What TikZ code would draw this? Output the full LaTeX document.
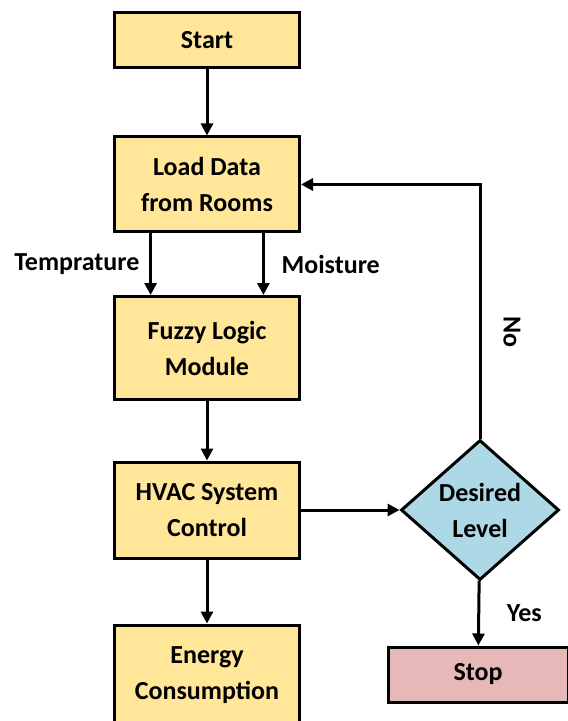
\documentclass[tikz,border=0pt]{standalone}
\usepackage{fontspec}
\setmainfont{Carlito}
\usetikzlibrary{arrows.meta,shapes.geometric,calc}
\definecolor{fcGold}{HTML}{FFE699}
\definecolor{fcBlue}{HTML}{ADD8E6}
\definecolor{fcRose}{HTML}{E6B8B7}

\begin{document}
\begin{tikzpicture}[x=0.5pt,y=-0.5pt,
  box/.style={draw=black, line width=1.5pt, fill=fcGold, minimum width=92.5pt,
    align=center, inner sep=0pt, font=\bfseries\fontsize{13}{18}\selectfont},
  decide/.style={diamond, draw=black, line width=1.5pt, fill=fcBlue, aspect=1,
    minimum width=79pt, minimum height=70pt, inner sep=0pt, align=center,
    font=\bfseries\fontsize{13}{18}\selectfont},
  lbl/.style={font=\bfseries\fontsize{13}{18}\selectfont},
  flow/.style={line width=1.5pt, -{Triangle[length=6pt,width=6pt]}}]
  \useasboundingbox (0,0) rectangle (567,721);
  \node[box, minimum height=27.5pt] (start) at (207,40) {Start};
  \node[box, minimum height=47.5pt] (load) at (207,184.5) {Load Data\\from Rooms};
  \node[box, minimum height=51.5pt] (fuzzy) at (207,348) {Fuzzy Logic\\Module};
  \node[box, minimum height=48pt] (hvac) at (207,510) {HVAC System\\Control};
  \node[box, minimum height=50pt] (energy) at (207,675) {Energy\\Consumption};
  \node[decide] (dec) at (480,510) {Desired\\Level};
  \node[box, fill=fcRose, minimum width=90pt, minimum height=27.5pt] (stop) at (478,674.5) {Stop};
  % main chain
  \draw[flow] (start) -- (load);
  \draw[flow] ($(load.south west)!0.2!(load.south east)$) --
    node[lbl, left=1.5pt] {Temprature} ($(fuzzy.north west)!0.2!(fuzzy.north east)$);
  \draw[flow] ($(load.south west)!0.8!(load.south east)$) --
    node[lbl, right=5pt] {Moisture} ($(fuzzy.north west)!0.8!(fuzzy.north east)$);
  \draw[flow] (fuzzy) -- (hvac);
  \draw[flow] (hvac) -- (energy);
  \draw[flow] (hvac) -- (dec);
  % decision
  \draw[flow] (dec) -- node[lbl, right=10pt] {Yes} (stop);
  \draw[flow] (dec.north) |- node[lbl, pos=0.21, rotate=-90, anchor=south, inner sep=11pt] {No} (load.east);
\end{tikzpicture}
\end{document}
